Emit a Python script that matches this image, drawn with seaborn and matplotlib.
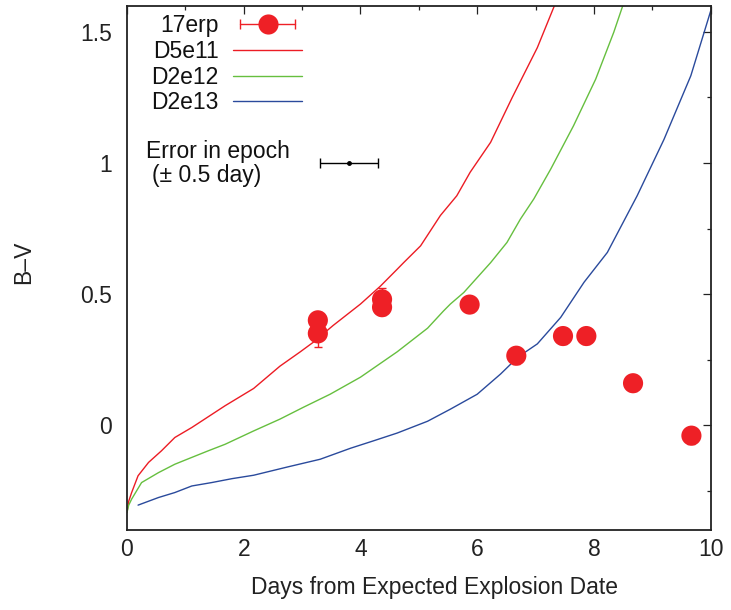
import matplotlib
matplotlib.use('Agg')
import matplotlib.pyplot as plt
import seaborn as sns
import pandas as pd
from matplotlib.lines import Line2D
from matplotlib.legend_handler import HandlerLine2D, HandlerTuple
from matplotlib.ticker import MultipleLocator, FuncFormatter

# ---- observed 17erp colours ----
obs_days = [3.27, 3.27, 4.37, 4.37, 5.87, 6.67, 7.47, 7.87, 8.67, 9.67]
obs_bv = [0.40, 0.35, 0.48, 0.45, 0.46, 0.265, 0.34, 0.34, 0.16, -0.04]
obs_err = [0.03, 0.05, 0.045, 0.03, 0.03, 0.03, 0.03, 0.03, 0.03, 0.03]

# ---- model curves ----
d5e11_x = [0.0, 0.03, 0.08, 0.19, 0.37, 0.59, 0.82, 1.11, 1.68, 2.17, 2.62, 2.97,
           3.19, 3.53, 4.0, 4.34, 4.63, 4.74, 5.03, 5.37, 5.65, 5.88, 6.23, 6.6,
           7.03, 7.33]
d5e11_y = [-0.333, -0.29, -0.257, -0.193, -0.142, -0.098, -0.047, -0.009, 0.074,
           0.14, 0.225, 0.28, 0.316, 0.38, 0.462, 0.53, 0.595, 0.62, 0.684, 0.80,
           0.875, 0.965, 1.079, 1.25, 1.44, 1.604]

d2e12_x = [0.0, 0.03, 0.08, 0.25, 0.54, 0.82, 1.11, 1.39, 1.68, 2.17, 2.62, 3.02,
           3.48, 4.0, 4.63, 5.15, 5.42, 5.54, 5.77, 6.23, 6.51, 6.74, 6.97, 7.26,
           7.65, 8.03, 8.34, 8.5]
d2e12_y = [-0.333, -0.305, -0.282, -0.219, -0.181, -0.149, -0.123, -0.098, -0.073,
           -0.022, 0.023, 0.068, 0.118, 0.183, 0.28, 0.37, 0.435, 0.462, 0.506,
           0.62, 0.697, 0.786, 0.863, 0.977, 1.142, 1.32, 1.499, 1.604]

d2e13_x = [0.19, 0.54, 0.82, 1.11, 1.45, 1.8, 2.17, 2.74, 3.31, 3.83, 4.22, 4.63,
           5.15, 5.54, 6.0, 6.4, 6.7, 7.03, 7.43, 7.83, 8.23, 8.74, 9.2, 9.66, 10.0]
d2e13_y = [-0.305, -0.276, -0.257, -0.232, -0.219, -0.204, -0.191, -0.16, -0.13,
           -0.088, -0.06, -0.03, 0.015, 0.061, 0.118, 0.195, 0.26, 0.31, 0.411,
           0.545, 0.659, 0.875, 1.09, 1.333, 1.58]

model_names = ['D5e11', 'D2e12', 'D2e13']
model_colors = ['#ec1c24', '#66bf3f', '#2a4a9c']
obs_color = '#ee2026'

x_ticks = [0, 2, 4, 6, 8, 10]
y_ticks = [0, 0.5, 1, 1.5]

sns.set_theme(style='white')
plt.rcParams['font.family'] = ['Liberation Sans', 'DejaVu Sans']
fs = 16.5

models = pd.concat([
    pd.DataFrame({'x': d5e11_x, 'y': d5e11_y, 'model': 'D5e11'}),
    pd.DataFrame({'x': d2e12_x, 'y': d2e12_y, 'model': 'D2e12'}),
    pd.DataFrame({'x': d2e13_x, 'y': d2e13_y, 'model': 'D2e13'}),
], ignore_index=True)
obs = pd.DataFrame({'x': obs_days, 'y': obs_bv, 'e': obs_err})

fig = plt.figure(figsize=(7.31, 6.10), dpi=100)
ax = fig.add_axes([0.1737, 0.1311, 0.7985, 0.8595])

sns.lineplot(data=models, x='x', y='y', hue='model', hue_order=model_names,
             palette=model_colors, estimator=None, sort=False, lw=1.0,
             legend=False, ax=ax, zorder=2)
ax.errorbar(obs['x'], obs['y'], yerr=obs['e'], fmt='none', ecolor=obs_color,
            elinewidth=1.0, capsize=3, capthick=1.0, zorder=4)
sns.scatterplot(data=obs, x='x', y='y', s=14.5 ** 2, color=obs_color,
                edgecolor='none', linewidth=0, ax=ax, zorder=5, legend=False)

# epoch error indicator
ax.errorbar([3.8], [1.0], xerr=[0.5], fmt='o', ms=2.5, color='black',
            elinewidth=1.0, capsize=3.5, capthick=1.0, zorder=4)
ax.text(0.33, 1.019, 'Error in epoch', fontsize=fs, va='baseline', ha='left',
        color='#111111')
ax.text(0.43, 0.927, '(± 0.5 day)', fontsize=fs, va='baseline', ha='left',
        color='#111111')

ax.set_xlim(0, 10)
ax.set_ylim(-0.4, 1.6)
ax.set_xticks(x_ticks)
ax.set_yticks(y_ticks)
ax.xaxis.set_minor_locator(MultipleLocator(1))
ax.yaxis.set_minor_locator(MultipleLocator(0.25))
fmt = FuncFormatter(lambda v, p: '%g' % v)
ax.xaxis.set_major_formatter(fmt)
ax.yaxis.set_major_formatter(fmt)
ax.tick_params(which='both', direction='in', top=True, right=True,
               color='#222222', width=0.9)
ax.tick_params(which='major', length=5.5)
ax.tick_params(which='minor', length=2.7)
ax.tick_params(axis='x', which='major', labelsize=fs, pad=6, labelcolor='#222222')
ax.tick_params(axis='y', which='major', labelsize=fs, pad=11, labelcolor='#222222')
for sp in ax.spines.values():
    sp.set_color('#222222')
    sp.set_linewidth(1.3)

ax.set_xlabel('Days from Expected Explosion Date', fontsize=fs, color='#222222')
ax.set_ylabel('B–V', fontsize=fs, color='#222222')
ax.xaxis.set_label_coords(0.526, -0.088)
ax.yaxis.set_label_coords(-0.158, 0.51)

# legend
caps = Line2D([], [], color=obs_color, lw=1.0, marker='|', ms=7, mew=1.0)
dot = Line2D([], [], color=obs_color, marker='o', ms=14.5, ls='none', mec='none')
h_lines = [Line2D([], [], color=c, lw=1.0) for c in model_colors]
handles = [(caps, dot)] + h_lines
labels = ['17erp'] + model_names
leg = ax.legend(handles, labels, loc='upper right', bbox_to_anchor=(0.30, 0.984),
                frameon=False, markerfirst=False, fontsize=fs, handlelength=3.0,
                handletextpad=0.65, labelspacing=0.12, borderpad=0,
                borderaxespad=0,
                handler_map={caps: HandlerLine2D(numpoints=2),
                             tuple: HandlerTuple(ndivide=1, pad=0)})
for t in leg.get_texts():
    t.set_color('#111111')

fig.savefig('out.png', dpi=100)
